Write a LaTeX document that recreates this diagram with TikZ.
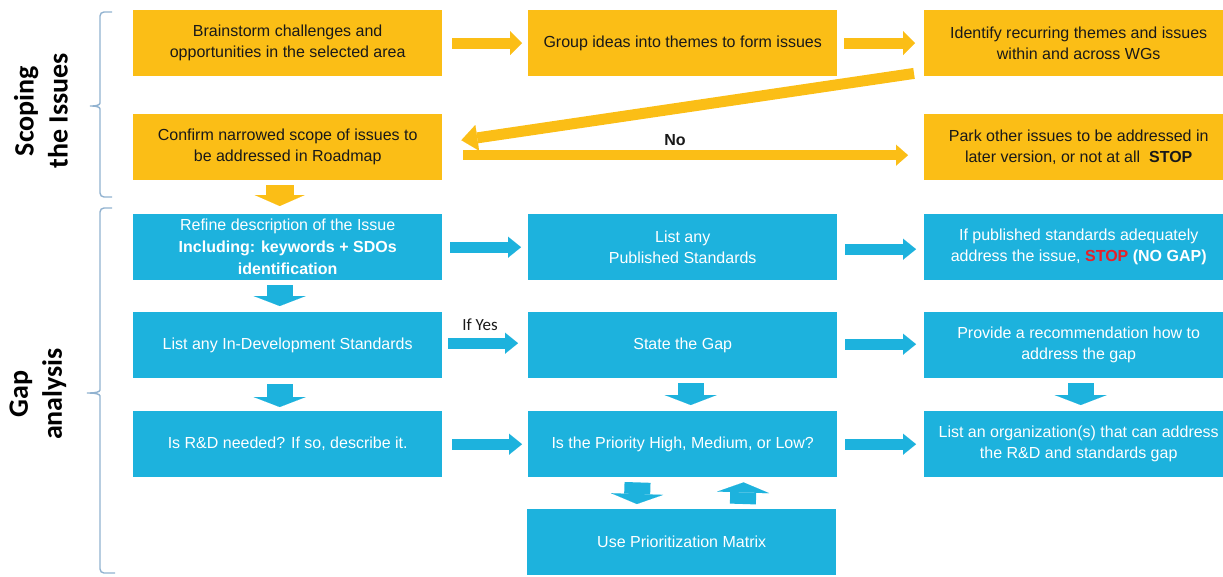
\documentclass[tikz,border=0pt]{standalone}
\usepackage{fontspec}
\setmainfont{Liberation Sans}
\newfontfamily\calibri{Carlito}
\usetikzlibrary{arrows.meta,calc}

\definecolor{boxorange}{RGB}{251,190,22}
\definecolor{boxblue}{RGB}{29,178,221}
\definecolor{bracecol}{RGB}{145,178,208}
\definecolor{stopred}{RGB}{232,32,40}
\definecolor{textdark}{RGB}{25,25,25}

\begin{document}
\begin{tikzpicture}[x=1pt,y=-1pt,
  box/.style={minimum width=309pt, minimum height=66pt, inner sep=0pt,
    anchor=north west, align=center, font=\fontsize{16}{21}\selectfont},
  obox/.style={box, fill=boxorange, text=textdark},
  bbox/.style={box, fill=boxblue, text=white},
  % horizontal block arrows
  ohar/.style={draw=boxorange, line width=11pt,
    -{Triangle[width=24pt,length=12pt,line width=0.01pt]}},
  bhar/.style={draw=boxblue, line width=11pt,
    -{Triangle[width=21pt,length=13pt,line width=0.01pt]}},
  % the long orange arrows of the scoping part
  odiag/.style={draw=boxorange, line width=11pt,
    -{Triangle[width=26pt,length=16pt,line width=0.01pt]}},
  olong/.style={draw=boxorange, line width=10pt,
    -{Triangle[width=21pt,length=12pt,line width=0.01pt]}},
  % short vertical block arrows
  odown/.style={draw=boxorange, line width=28pt,
    -{Triangle[width=50pt,length=11pt,line width=0.01pt]}},
  bdown/.style={draw=boxblue, line width=26pt,
    -{Triangle[width=52pt,length=10pt,line width=0.01pt]}},
  bracket/.style={draw=bracecol, line width=1.4pt, line join=round},
  side/.style={rotate=90, align=center, text=black,
    font=\calibri\bfseries\fontsize{28}{34}\selectfont},
  tag/.style={text=textdark, inner sep=0pt}
]
\useasboundingbox (0,0) rectangle (1223,576);

% ---- scoping the issues ----
\node[obox] (c11) at (133,10) {Brainstorm challenges and\\opportunities in the selected area};
\node[obox] (c12) at (528,10) {Group ideas into themes to form issues};
\node[obox] (c13) at (924,10) {Identify recurring themes and issues\\within and across WGs};
\node[obox] (c21) at (133,114) {Confirm narrowed scope of issues to\\be addressed in Roadmap};
\node[obox] (c23) at (924,114) {Park other issues to be addressed in\\later version, or not at all~~\textbf{STOP}};

% ---- gap analysis ----
\node[bbox, font=\fontsize{16}{22}\selectfont] (b31) at (133,214)
  {Refine description of the Issue\\\textbf{Including: keywords + SDOs}\\\textbf{identification}};
\node[bbox] (b32) at (528,214) {List any\\Published Standards};
\node[bbox] (b33) at (924,214)
  {If published standards adequately\\address the issue, \textcolor{stopred}{\textbf{STOP}} \textbf{(NO GAP)}};
\node[bbox] (b41) at (133,312) {List any In-Development Standards};
\node[bbox] (b42) at (528,312) {State the Gap};
\node[bbox] (b43) at (924,312) {Provide a recommendation how to\\address the gap};
\node[bbox] (b51) at (133,411) {Is R\&D needed? If so, describe it.};
\node[bbox] (b52) at (528,411) {Is the Priority High, Medium, or Low?};
\node[bbox] (b53) at (924,411) {List an organization(s) that can address\\the R\&D and standards gap};
\node[bbox] (b62) at (527,509) {Use Prioritization Matrix};

% ---- section labels and brackets ----
\node[side] (scope) at (41,111) {Scoping\\the Issues};
\node[side] (gap) at (38,394) {Gap\\analysis};

\draw[bracket, rounded corners=4pt] (112,12) -- (100,12) -- (100,99)
  .. controls (100,105) and (96,106) .. (88,106)
  .. controls (96,106) and (100,107) .. (100,113) -- (100,197) -- (112,197);
\draw[bracket, rounded corners=4pt] (112,208) -- (100,208) -- (100,386)
  .. controls (100,392) and (95,393) .. (85,393)
  .. controls (95,393) and (100,394) .. (100,400) -- (100,573) -- (115,573);

% ---- connectors: scoping ----
\draw[ohar, shorten <=10pt, shorten >=6pt] (c11.east) -- (c12.west);
\draw[ohar, shorten <=7pt, shorten >=9pt] (c12.east) -- (c13.west);
\draw[odiag] ($(c13.south west)+(-10,-3)$) -- ($(c21.east)+(19,-7)$);
\draw[olong] ($(c21.east)+(21,8)$) -- ($(c23.west)+(-16,8)$);
\node[tag, font=\bfseries\fontsize{16}{18}\selectfont] (nolabel) at (675,140) {No};
\draw[odown, shorten <=5pt, shorten >=8pt]
  ([xshift=-8pt]c21.south) -- ([xshift=-8pt]b31.north);

% ---- connectors: gap analysis ----
\draw[bhar, shorten <=8pt, shorten >=7pt] (b31.east) -- (b32.west);
\draw[bhar, shorten <=8pt, shorten >=8pt] ([yshift=-2pt]b32.east) -- ([yshift=-2pt]b33.west);
\draw[bhar, shorten <=6pt, shorten >=10pt] ([yshift=2pt]b41.east) -- ([yshift=2pt]b42.west);
\node[tag, font=\calibri\fontsize{17}{19}\selectfont] (yeslabel) at (480,325) {If Yes};
\draw[bhar, shorten <=8pt, shorten >=8pt] ([yshift=1pt]b42.east) -- ([yshift=1pt]b43.west);
\draw[bhar, shorten <=10pt, shorten >=6pt] (b51.east) -- (b52.west);
\draw[bhar, shorten <=8pt, shorten >=8pt] (b52.east) -- (b53.west);

\draw[bdown, shorten <=5pt, shorten >=6pt]
  ([xshift=-8pt]b31.south) -- ([xshift=-8pt]b41.north);
\draw[bdown, shorten <=6pt, shorten >=4pt]
  ([xshift=-8pt]b41.south) -- ([xshift=-8pt]b51.north);
\draw[bdown, shorten <=5pt, shorten >=6pt]
  ([xshift=8pt]b42.south) -- ([xshift=8pt]b52.north);
\draw[bdown, shorten <=5pt, shorten >=6pt]
  ([xshift=2pt]b43.south) -- ([xshift=2pt]b53.north);
\draw[bdown, shorten <=5pt, shorten >=5pt]
  ([xshift=-45pt]b52.south) -- ([xshift=-45pt]b62.north);
\draw[bdown, shorten <=5pt, shorten >=5pt]
  ([xshift=61pt]b62.north) -- ([xshift=61pt]b52.south);
\end{tikzpicture}
\end{document}
